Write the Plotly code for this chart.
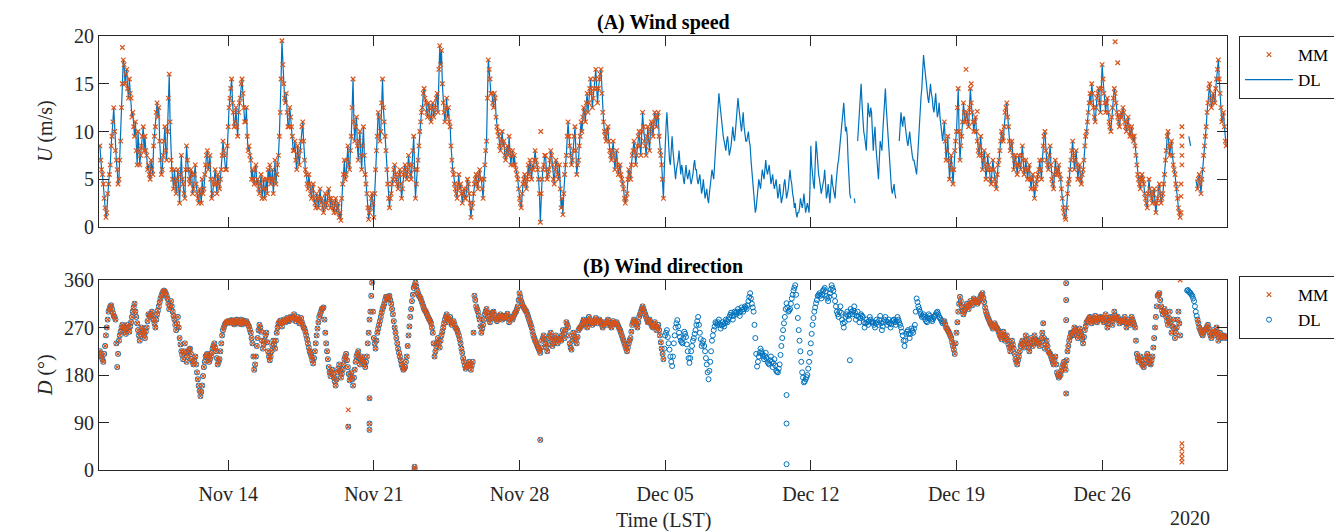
import pandas as pd
import plotly.graph_objects as go

BLUE = '#0072BD'
ORANGE = '#D95319'
INK = '#262626'
FONT = 'Liberation Serif'

# ---------------- data: hourly readings, split into even hours (00,02,..,22) and odd hours (01,..,23)
# Nov 07 starts at 20:00 (even) / 21:00 (odd)
speed_even = {
    '2019-11-07': [8.5, 6.0],
    '2019-11-08': [4.5, 2.0, 1.5, 4.5, 6.5, 9.5, 12.5, 8.0, 6.0, 5.0, 9.0, 15.0],
    '2019-11-09': [17.0, 16.0, 14.5, 15.5, 13.5, 12.0, 9.5, 8.0, 10.0, 6.5, 8.5, 10.5],
    '2019-11-10': [9.5, 7.5, 6.5, 5.0, 6.0, 8.5, 10.5, 13.0, 12.5, 7.0, 6.0, 9.0],
    '2019-11-11': [8.0, 10.0, 16.0, 7.0, 5.0, 6.0, 3.5, 6.0, 2.5, 7.5, 4.5, 3.0],
    '2019-11-12': [8.5, 6.0, 4.5, 5.5, 4.0, 6.5, 3.5, 2.5, 3.5, 5.0, 4.0, 6.5],
    '2019-11-13': [8.0, 6.5, 5.0, 3.5, 5.0, 4.5, 5.5, 4.0, 6.0, 9.0, 7.5, 6.0],
    '2019-11-14': [10.5, 13.5, 15.5, 12.0, 11.0, 10.5, 12.0, 13.5, 15.5, 12.5, 11.0, 9.5],
    '2019-11-15': [8.5, 7.0, 6.0, 4.5, 6.5, 5.0, 3.5, 5.5, 4.0, 3.0, 5.0, 6.0],
    '2019-11-16': [6.5, 5.0, 3.5, 7.0, 5.5, 7.5, 12.0, 19.5, 15.0, 13.0, 12.0, 10.5],
    '2019-11-17': [11.5, 9.5, 8.0, 7.0, 8.5, 6.5, 9.0, 11.0, 7.0, 5.5, 4.0, 4.5],
    '2019-11-18': [3.0, 4.5, 2.5, 3.5, 2.0, 4.0, 3.0, 1.5, 3.5, 2.5, 4.0, 2.0],
    '2019-11-19': [2.5, 1.5, 3.0, 2.0, 1.0, 0.7, 4.5, 7.0, 5.5, 8.5, 6.0, 9.5],
    '2019-11-20': [15.5, 9.0, 11.5, 7.0, 10.0, 6.0, 10.5, 5.5, 3.5, 0.8, 2.0, 3.5],
    '2019-11-21': [1.0, 6.0, 9.5, 11.5, 10.0, 15.5, 11.0, 8.0, 4.5, 2.0, 3.5, 5.0],
    '2019-11-22': [6.5, 5.0, 4.0, 6.0, 3.0, 5.5, 6.5, 5.0, 7.5, 5.5, 6.5, 9.5],
    '2019-11-23': [3.0, 6.0, 8.5, 11.0, 12.5, 14.5, 13.0, 11.5, 12.5, 11.0, 13.0, 12.0],
    '2019-11-24': [13.5, 12.0, 19.0, 18.5, 13.0, 11.0, 13.5, 12.5, 10.5, 7.0, 5.5, 4.0],
    '2019-11-25': [3.0, 5.5, 4.5, 2.5, 4.0, 3.0, 5.0, 3.5, 1.0, 2.5, 4.5, 5.5],
    '2019-11-26': [4.0, 6.0, 5.0, 3.0, 6.5, 9.0, 17.5, 15.5, 14.0, 12.5, 13.5, 10.5],
    '2019-11-27': [9.5, 8.0, 10.0, 9.0, 7.0, 8.5, 9.5, 6.5, 8.0, 7.5, 6.0, 5.0],
    '2019-11-28': [3.0, 2.0, 4.5, 5.5, 4.0, 6.5, 7.0, 5.0, 6.0, 8.0, 6.5, 5.0],
    '2019-11-29': [0.5, 5.0, 6.5, 7.5, 5.0, 6.0, 8.0, 6.5, 4.5, 7.0, 5.5, 6.5],
    '2019-11-30': [2.0, 1.3, 5.5, 7.5, 11.0, 8.5, 6.5, 8.0, 10.5, 5.5, 7.0, 9.5],
    '2019-12-01': [10.0, 12.5, 11.0, 14.0, 13.0, 15.5, 12.5, 14.5, 16.5, 13.0, 15.5, 16.5],
    '2019-12-02': [12.0, 10.0, 9.0, 10.5, 8.0, 7.0, 9.0, 6.0, 8.0, 5.5, 6.5, 5.0],
    '2019-12-03': [4.0, 2.5, 3.5, 6.0, 5.0, 7.5, 9.0, 6.5, 8.5, 10.0, 7.5, 12.0],
    '2019-12-04': [9.0, 7.5, 10.5, 8.0, 11.0, 9.5, 12.0, 10.5, 12.0, 8.0, 6.5, 3.0],
    '2019-12-05': [9.0, 12.0, 8.0, 6.5, 9.5, 7.0, 5.0, 6.5, 8.0, 5.5, 6.0, 4.5],
    '2019-12-06': [6.5, 5.0, 6.0, 4.5, 5.5, 7.0, 6.0, 4.5, 5.5, 3.5, 5.0, 3.0],
    '2019-12-07': [4.0, 2.5, 4.5, 6.0, 5.0, 8.0, 11.0, 14.0, 12.0, 10.5, 9.0, 8.0],
    '2019-12-08': [9.5, 7.5, 8.5, 10.5, 9.0, 11.0, 13.5, 11.5, 10.0, 12.0, 9.5, 9.0],
    '2019-12-09': [10.0, 8.5, 6.0, 3.5, 1.5, 3.0, 5.0, 4.0, 6.0, 5.0, 7.0, 5.5],
    '2019-12-10': [6.5, 4.5, 5.5, 4.0, 5.0, 3.0, 4.5, 2.5, 3.5, 5.0, 3.0, 4.0],
    '2019-12-11': [6.0, 4.5, 3.0, 2.5, 1.0, 1.5, 3.0, 2.0, 3.5, 1.5, 2.5, 1.5],
    '2019-12-12': [8.5, 5.0, 4.0, 9.0, 6.5, 5.0, 3.5, 4.5, 6.0, 3.0, 4.5, 2.5],
    '2019-12-13': [5.5, 4.0, 3.0, 6.0, 7.0, 9.0, 11.0, 13.0, 10.0, 9.5, 4.0, 3.0],
    '2019-12-14': [None, 3.0, None, 9.0, 12.0, 15.0, 11.0, 9.5, 8.0, 13.0, 11.5, 12.0],
    '2019-12-15': [8.0, 10.5, 7.0, 5.0, 9.0, 8.0, 12.0, 14.5, 11.0, 9.0, 5.0, 3.5],
    '2019-12-16': [4.5, 3.0, None, 9.0, 12.0, 10.5, 11.5, 9.5, 8.5, 10.0, 8.0, 7.0],
    '2019-12-17': [6.5, 5.5, 9.0, 12.0, 14.5, 18.0, 16.0, 14.5, 13.0, 15.0, 13.5, 12.0],
    '2019-12-18': [14.0, 11.5, 13.0, 10.5, 9.0, 11.0, 7.0, 9.5, 5.0, 7.5, 4.5, 8.0],
    '2019-12-19': [10.0, 14.5, 7.0, 9.5, 13.0, 11.0, 12.0, 10.5, 14.5, 12.0, 10.0, 11.5],
    '2019-12-20': [9.0, 7.5, 9.5, 6.0, 8.0, 5.0, 7.5, 6.0, 4.5, 7.0, 5.0, 4.0],
    '2019-12-21': [6.5, 8.0, 10.0, 9.0, 12.0, 13.0, 10.5, 8.0, 9.0, 6.0, 7.5, 5.5],
    '2019-12-22': [7.5, 6.0, 8.5, 5.5, 7.0, 5.0, 6.5, 4.0, 5.5, 3.0, 4.5, 5.5],
    '2019-12-23': [7.0, 5.0, 8.5, 10.0, 7.0, 6.0, 8.5, 5.0, 4.0, 7.0, 5.5, 6.5],
    '2019-12-24': [5.0, 3.0, 1.5, 0.8, 3.5, 5.0, 7.0, 9.0, 6.0, 8.0, 5.0, 6.5],
    '2019-12-25': [4.5, 6.0, 8.5, 10.0, 12.0, 14.0, 15.0, 12.5, 11.0, 13.5, 14.5, 12.0],
    '2019-12-26': [17.0, 14.0, 12.0, 13.5, 11.0, 10.0, 12.5, 14.5, 13.0, 11.5, 10.5, 12.0],
    '2019-12-27': [12.5, 11.0, 10.0, 11.5, 9.5, 10.5, 9.0, 8.5, 6.5, 5.0, 4.0, 5.5],
    '2019-12-28': [4.5, 3.0, 2.0, 5.0, 3.5, 2.5, 4.0, 1.5, 3.0, 4.5, 2.5, 3.5],
    '2019-12-29': [5.5, 8.0, 10.0, 7.5, 9.0, 6.5, 5.5, 4.0, 2.0, 1.0, None, None],
    '2019-12-30': [None, None, 9.5, 8.5, None, None, 5.0, 4.0, 5.5, 3.5, 6.0, 8.5],
    '2019-12-31': [10.5, 13.0, 15.0, 12.5, 14.0, 13.0, 15.5, 17.5, 14.0, 11.0, 12.0, 9.0],
}

speed_odd = {
    '2019-11-07': [7.0, 5.5],
    '2019-11-08': [3.0, 1.0, 3.5, 5.5, 8.5, 11.0, 10.0, 7.0, 4.5, 7.0, 12.5, 17.5],
    '2019-11-09': [15.0, 16.5, 13.5, 14.0, 11.5, 10.5, 11.0, 6.5, 8.0, 7.5, 9.5, 8.0],
    '2019-11-10': [8.0, 6.0, 5.5, 7.0, 5.5, 9.5, 12.0, 11.5, 9.0, 5.5, 7.5, 10.5],
    '2019-11-11': [7.0, 13.5, 11.0, 6.0, 4.0, 4.5, 5.0, 4.0, 5.5, 5.0, 3.5, 6.0],
    '2019-11-12': [7.0, 5.0, 6.0, 3.5, 5.5, 4.5, 3.0, 4.0, 2.5, 3.5, 5.5, 7.5],
    '2019-11-13': [6.0, 7.5, 3.0, 4.5, 6.0, 3.5, 4.5, 5.0, 7.5, 8.0, 6.0, 8.5],
    '2019-11-14': [12.5, 14.5, 13.0, 10.5, 12.5, 9.5, 13.0, 15.0, 14.0, 11.0, 12.5, 8.0],
    '2019-11-15': [7.5, 5.0, 5.0, 6.0, 4.5, 4.0, 4.5, 3.0, 5.0, 4.0, 3.5, 5.0],
    '2019-11-16': [4.5, 6.0, 5.0, 4.5, 6.5, 9.5, 15.5, 17.0, 13.5, 14.0, 10.5, 12.5],
    '2019-11-17': [10.5, 8.0, 9.0, 6.0, 7.5, 8.0, 10.5, 9.0, 6.0, 4.5, 5.5, 3.5],
    '2019-11-18': [4.0, 3.0, 2.0, 3.0, 3.0, 2.5, 2.0, 2.5, 2.0, 3.5, 3.0, 3.0],
    '2019-11-19': [2.0, 2.5, 1.5, 2.5, 1.5, 3.0, 5.5, 5.0, 7.0, 6.5, 8.0, 12.5],
    '2019-11-20': [11.0, 10.5, 8.5, 9.0, 7.5, 8.5, 7.5, 4.5, 2.0, 1.5, 3.0, 2.5],
    '2019-11-21': [3.5, 8.0, 12.0, 9.0, 13.0, 12.5, 9.5, 6.0, 3.0, 3.0, 4.5, 6.0],
    '2019-11-22': [5.5, 4.5, 5.5, 4.5, 4.0, 6.0, 5.5, 6.0, 6.5, 5.0, 8.0, 6.0],
    '2019-11-23': [4.5, 7.0, 10.0, 12.0, 14.0, 13.5, 12.0, 13.0, 11.5, 12.5, 11.5, 12.5],
    '2019-11-24': [14.0, 16.5, 17.0, 15.0, 12.0, 12.5, 11.5, 11.0, 8.5, 6.0, 4.5, 3.5],
    '2019-11-25': [4.5, 4.0, 3.5, 3.5, 3.0, 4.0, 4.5, 2.5, 2.0, 3.5, 5.0, 4.5],
    '2019-11-26': [5.5, 5.0, 4.0, 5.0, 8.0, 13.5, 16.5, 14.0, 13.0, 14.0, 11.5, 10.0],
    '2019-11-27': [8.5, 9.0, 8.5, 7.5, 8.0, 7.5, 8.0, 7.5, 6.5, 6.5, 5.5, 4.0],
    '2019-11-28': [2.5, 3.5, 5.0, 4.5, 5.0, 5.5, 6.0, 6.5, 7.0, 7.0, 6.0, 3.5],
    '2019-11-29': [3.5, 6.0, 7.5, 6.0, 5.5, 7.0, 7.5, 5.0, 6.0, 6.5, 5.0, 4.0],
    '2019-11-30': [3.0, 3.5, 6.5, 9.5, 9.5, 7.5, 7.0, 9.5, 8.0, 6.5, 8.5, 11.0],
    '2019-12-01': [11.5, 12.0, 13.0, 12.0, 14.5, 14.0, 13.5, 15.5, 14.5, 14.5, 16.0, 14.0],
    '2019-12-02': [11.0, 9.5, 10.0, 9.0, 7.5, 8.0, 7.5, 7.0, 6.5, 6.0, 5.5, 4.5],
    '2019-12-03': [3.0, 3.0, 5.0, 5.5, 6.5, 8.0, 8.0, 7.5, 9.5, 8.5, 10.0, 10.5],
    '2019-12-04': [8.5, 9.5, 9.0, 10.0, 10.5, 11.0, 11.5, 11.5, 9.5, 7.5, 5.0, 6.0],
    '2019-12-05': [10.5, 10.0, 7.0, 8.5, 8.0, 6.0, 6.0, 7.0, 6.5, 6.5, 5.0, 5.5],
    '2019-12-06': [5.5, 5.5, 5.0, 5.0, 6.5, 6.0, 5.0, 5.0, 4.5, 4.0, 4.0, 3.5],
    '2019-12-07': [3.0, 3.5, 5.5, 5.5, 6.5, 9.5, 12.5, 13.0, 11.0, 9.5, 8.5, 9.0],
    '2019-12-08': [8.5, 8.0, 9.5, 9.5, 10.0, 12.0, 12.5, 10.5, 11.0, 10.5, 9.0, 9.5],
    '2019-12-09': [9.0, 7.0, 4.5, 2.5, 2.0, 4.0, 4.5, 5.0, 5.5, 6.0, 6.0, 6.0],
    '2019-12-10': [5.5, 5.0, 4.5, 4.5, 4.0, 3.5, 3.5, 3.0, 4.5, 4.0, 3.5, 5.0],
    '2019-12-11': [5.0, 3.5, 2.0, 1.5, 1.5, 2.0, 2.5, 2.5, 2.5, 2.0, 2.0, 4.0],
    '2019-12-12': [6.5, 4.5, 6.0, 8.0, 5.5, 4.0, 4.0, 5.0, 4.5, 3.5, 3.5, 4.0],
    '2019-12-13': [4.5, 3.5, 4.5, 6.5, 8.0, 10.5, 12.0, 11.5, 10.5, 7.0, 3.5, None],
    '2019-12-14': [None, 2.5, None, 10.5, 13.5, 13.0, 10.0, 8.5, 10.5, 12.0, 12.5, 10.0],
    '2019-12-15': [9.5, 8.5, 6.0, 7.0, 8.5, 10.0, 13.5, 12.5, 10.0, 7.0, 4.0, 4.0],
    '2019-12-16': [3.5, None, None, 10.5, 11.0, 11.5, 10.5, 9.0, 9.5, 9.0, 7.5, 7.0],
    '2019-12-17': [6.0, 7.0, 10.5, 13.5, 16.0, 17.0, 15.0, 13.5, 14.5, 14.0, 12.5, 13.0],
    '2019-12-18': [12.5, 12.0, 11.5, 9.5, 10.0, 9.0, 8.0, 7.0, 6.5, 6.0, 6.0, 9.0],
    '2019-12-19': [12.5, 10.0, 8.5, 11.0, 12.0, 11.5, 11.0, 12.5, 13.0, 11.0, 11.0, 10.0],
    '2019-12-20': [8.0, 8.5, 7.5, 7.0, 6.5, 6.0, 6.5, 5.0, 6.0, 6.0, 4.5, 5.5],
    '2019-12-21': [7.0, 9.0, 9.5, 10.5, 12.5, 11.5, 9.0, 8.5, 7.5, 7.0, 6.5, 6.5],
    '2019-12-22': [6.5, 7.5, 7.0, 6.0, 6.0, 6.0, 5.0, 5.0, 4.0, 4.0, 5.0, 6.0],
    '2019-12-23': [6.0, 7.0, 9.5, 8.0, 6.5, 7.5, 6.5, 4.5, 5.5, 6.0, 6.0, 5.5],
    '2019-12-24': [4.0, 2.0, 1.0, 2.0, 4.5, 6.0, 8.0, 7.5, 7.0, 6.5, 6.0, 5.0],
    '2019-12-25': [5.5, 7.0, 9.5, 11.0, 13.0, 13.0, 14.0, 11.5, 12.5, 14.0, 13.0, 14.5],
    '2019-12-26': [15.5, 13.0, 13.0, 12.0, 10.5, 11.5, 13.5, 14.0, 12.0, 11.0, 11.5, 11.5],
    '2019-12-27': [12.0, 10.5, 11.0, 10.5, 10.0, 9.5, 9.5, 7.5, 5.5, 4.5, 5.0, 5.0],
    '2019-12-28': [3.5, 2.5, 3.5, 4.0, 3.0, 3.5, 2.5, 2.5, 4.0, 3.5, 3.0, 4.5],
    '2019-12-29': [7.0, 9.5, 8.5, 8.5, 7.5, 6.0, 4.5, 3.0, 1.5, None, None, None],
    '2019-12-30': [None, None, 9.0, None, None, None, 4.5, 5.0, 4.5, 5.0, 7.5, 9.5],
    '2019-12-31': [12.0, 14.5, 13.5, 13.0, 13.5, 14.5, 16.5, 15.5, 12.5, 11.5, 10.5, 8.5],
}

dir_even = {
    '2019-11-07': [225, 215],
    '2019-11-08': [205, 235, 270, 300, 310, 305, 292, 285, 195, 245, 262, 275],
    '2019-11-09': [268, 258, 275, 262, 280, 300, 315, 290, 265, 245, 270, 260],
    '2019-11-10': [250, 270, 295, 290, 300, 285, 270, 295, 310, 325, 335, 340],
    '2019-11-11': [335, 325, 305, 320, 300, 285, 265, 290, 250, 225, 210, 240],
    '2019-11-12': [205, 225, 230, 210, 200, 215, 185, 160, 140, 160, 195, 215],
    '2019-11-13': [220, 205, 215, 230, 240, 225, 200, 210, 240, 265, 275, 280],
    '2019-11-14': [282, 280, 284, 278, 281, 285, 279, 282, 276, 283, 280, 278],
    '2019-11-15': [272, 260, 240, 190, 215, 250, 275, 262, 230, 245, 260, 225],
    '2019-11-16': [208, 225, 245, 230, 260, 278, 283, 272, 285, 280, 288, 282],
    '2019-11-17': [290, 285, 295, 282, 290, 278, 288, 275, 268, 255, 240, 225],
    '2019-11-18': [215, 202, 225, 255, 280, 295, 305, 308, 260, 225, 195, 178],
    '2019-11-19': [190, 175, 160, 185, 200, 175, 190, 210, 220, 195, 170, 185],
    '2019-11-20': [160, 190, 215, 225, 200, 215, 205, 195, 215, 260, 300, 355],
    '2019-11-21': [250, 230, 260, 275, 290, 305, 315, 328, 325, 330, 315, 295],
    '2019-11-22': [270, 250, 230, 215, 200, 190, 195, 215, 255, 290, 320, 345],
    '2019-11-23': [355, 340, 330, 325, 315, 305, 300, 292, 285, 278, 260, 215],
    '2019-11-24': [235, 250, 232, 255, 270, 285, 295, 280, 290, 275, 282, 270],
    '2019-11-25': [265, 255, 240, 222, 205, 192, 198, 205, 190, 205, 330, 310],
    '2019-11-26': [300, 285, 260, 275, 295, 305, 290, 280, 295, 300, 288, 282],
    '2019-11-27': [290, 295, 285, 292, 288, 296, 280, 290, 285, 295, 300, 310],
    '2019-11-28': [335, 320, 310, 305, 300, 290, 280, 270, 255, 245, 238, 230],
    '2019-11-29': [222, 245, 255, 240, 225, 250, 260, 235, 245, 255, 240, 250],
    '2019-11-30': [245, 265, 250, 280, 270, 240, 228, 260, 250, 240, 265, 270],
    '2019-12-01': [275, 285, 280, 270, 290, 282, 275, 280, 288, 278, 285, 280],
    '2019-12-02': [270, 280, 275, 285, 278, 270, 282, 276, 280, 272, 265, 255],
    '2019-12-03': [245, 235, 225, 240, 250, 275, 285, 280, 270, 290, 300, 310],
    '2019-12-04': [300, 290, 280, 285, 275, 270, 280, 265, 275, 255, 230, 210],
    '2019-12-05': [255, 265, 240, 215, 197, 240, 270, 284, 260, 245, 240, 262],
    '2019-12-06': [252, 225, 203, 225, 245, 258, 275, 290, 260, 235, 245, 225],
    '2019-12-07': [200, 172, 205, 245, 265, 280, 275, 285, 268, 280, 272, 285],
    '2019-12-08': [280, 290, 298, 285, 300, 295, 305, 292, 308, 300, 310, 305],
    '2019-12-09': [320, 335, 315, 300, 250, 196, 215, 230, 220, 210, 222, 205],
    '2019-12-10': [200, 215, 195, 210, 188, 185, 200, 235, 265, 290, 316, 300],
    '2019-12-11': [305, 325, 340, 350, 310, 265, 225, 185, 166, 172, 180, 205],
    '2019-12-12': [240, 275, 300, 316, 330, 335, 325, 340, 345, 330, 320, 335],
    '2019-12-13': [350, 340, 320, 300, 290, 310, 285, 270, 290, 300, 285, 305],
    '2019-12-14': [295, 310, 285, 300, 280, 295, 290, 270, 285, 275, 290, 280],
    '2019-12-15': [280, 270, 285, 275, 292, 265, 280, 290, 275, 285, 270, 282],
    '2019-12-16': [285, 275, 290, 280, 270, 255, 235, 258, 265, 250, 268, 260],
    '2019-12-17': [275, 325, 310, 300, 290, 295, 285, 280, 295, 288, 282, 290],
    '2019-12-18': [295, 300, 290, 285, 278, 282, 270, 265, 258, 250, 235, 220],
    '2019-12-19': [260, 300, 328, 310, 295, 305, 315, 305, 320, 312, 325, 320],
    '2019-12-20': [315, 320, 330, 335, 318, 300, 290, 282, 275, 268, 278, 270],
    '2019-12-21': [265, 255, 248, 262, 245, 255, 238, 225, 245, 230, 210, 200],
    '2019-12-22': [215, 235, 245, 232, 255, 240, 225, 250, 235, 255, 240, 245],
    '2019-12-23': [235, 250, 278, 230, 245, 225, 220, 210, 200, 215, 185, 175],
    '2019-12-24': [180, 195, 205, 190, 225, 245, 260, 255, 270, 262, 250, 268],
    '2019-12-25': [255, 240, 265, 280, 285, 290, 278, 285, 292, 280, 285, 290],
    '2019-12-26': [288, 280, 295, 270, 285, 290, 275, 300, 285, 290, 278, 285],
    '2019-12-27': [280, 290, 270, 285, 275, 290, 280, 270, 220, 205, 215, 200],
    '2019-12-28': [195, 210, 220, 205, 200, 215, 250, 290, 330, 335, 310, 295],
    '2019-12-29': [305, 290, 275, 300, 260, 285, 250, 270, 300, 255, None, None],
    '2019-12-30': [None, 340, 338, 335, 330, 320, 300, 285, 270, 262, 255, 265],
    '2019-12-31': [268, 275, 260, 250, 265, 255, 270, 245, 260, 250, 255, 252],
}

dir_odd = {
    '2019-11-07': [220, 210],
    '2019-11-08': [220, 255, 285, 305, 312, 298, 290, 240, 220, 255, 270, 272],
    '2019-11-09': [262, 268, 270, 272, 290, 308, 300, 278, 255, 258, 265, 255],
    '2019-11-10': [262, 282, 292, 296, 292, 278, 285, 302, 318, 330, 338, 338],
    '2019-11-11': [330, 315, 312, 310, 292, 275, 278, 270, 238, 218, 225, 222],
    '2019-11-12': [215, 228, 220, 205, 208, 200, 172, 150, 148, 178, 205, 218],
    '2019-11-13': [212, 210, 222, 235, 232, 212, 205, 225, 255, 270, 278, 281],
    '2019-11-14': [279, 283, 281, 276, 284, 281, 277, 285, 280, 278, 282, 275],
    '2019-11-15': [266, 250, 215, 200, 235, 265, 270, 245, 238, 255, 242, 215],
    '2019-11-16': [215, 235, 238, 245, 270, 280, 278, 280, 282, 285, 284, 287],
    '2019-11-17': [288, 290, 288, 286, 284, 282, 280, 270, 262, 248, 232, 220],
    '2019-11-18': [208, 212, 240, 268, 290, 300, 306, 285, 240, 210, 185, 185],
    '2019-11-19': [182, 168, 172, 192, 188, 182, 200, 215, 208, 182, 178, 172],
    '2019-11-20': [175, 205, 220, 212, 208, 210, 200, 205, 240, 285, 330, 300],
    '2019-11-21': [240, 245, 268, 282, 298, 310, 322, 326, 328, 322, 305, 282],
    '2019-11-22': [260, 240, 222, 208, 195, 192, 205, 235, 272, 305, 332, 350],
    '2019-11-23': [348, 335, 328, 320, 310, 302, 296, 288, 282, 270, 240, 225],
    '2019-11-24': [242, 240, 245, 262, 278, 290, 288, 285, 282, 278, 276, 268],
    '2019-11-25': [260, 248, 230, 212, 198, 195, 202, 198, 198, 260, 322, 305],
    '2019-11-26': [292, 272, 268, 285, 300, 298, 285, 288, 298, 294, 285, 286],
    '2019-11-27': [292, 290, 288, 290, 292, 288, 285, 288, 290, 298, 305, 322],
    '2019-11-28': [328, 315, 308, 302, 295, 285, 275, 262, 250, 242, 234, 226],
    '2019-11-29': [232, 250, 248, 232, 238, 255, 248, 240, 250, 248, 245, 248],
    '2019-11-30': [255, 258, 265, 275, 255, 232, 245, 255, 245, 252, 268, 272],
    '2019-12-01': [280, 282, 275, 280, 286, 278, 278, 284, 282, 282, 282, 275],
    '2019-12-02': [275, 278, 280, 282, 274, 276, 279, 278, 276, 268, 260, 250],
    '2019-12-03': [240, 230, 232, 245, 262, 280, 282, 275, 280, 295, 305, 305],
    '2019-12-04': [295, 285, 282, 280, 272, 275, 272, 270, 265, 242, 220, 230],
    '2019-12-05': [260, 252, 228, 205, 215, 255, 278, 272, 252, 242, 250, 258],
    '2019-12-06': [238, 212, 212, 235, 250, 265, 282, 275, 248, 240, 235, 212],
    '2019-12-07': [185, 188, 225, 255, 272, 278, 280, 276, 274, 276, 278, 282],
    '2019-12-08': [285, 294, 292, 292, 298, 300, 298, 300, 304, 305, 308, 312],
    '2019-12-09': [328, 325, 308, 275, 220, 205, 222, 225, 215, 216, 212, 202],
    '2019-12-10': [208, 205, 202, 198, 186, 192, 218, 250, 278, 305, 308, 302],
    '2019-12-11': [315, 332, 345, 332, 288, 245, 205, 175, 168, 176, 192, 222],
    '2019-12-12': [258, 288, 308, 322, 332, 330, 332, 342, 338, 325, 328, 342],
    '2019-12-13': [345, 330, 310, 295, 300, 298, 278, 280, 295, 292, 295, 300],
    '2019-12-14': [302, 298, 292, 290, 288, 292, 280, 278, 280, 282, 285, 280],
    '2019-12-15': [275, 278, 280, 284, 278, 272, 285, 282, 280, 278, 276, 284],
    '2019-12-16': [280, 282, 285, 275, 262, 245, 245, 262, 258, 258, 264, 268],
    '2019-12-17': [300, 318, 305, 295, 292, 290, 282, 288, 292, 285, 286, 292],
    '2019-12-18': [298, 295, 288, 282, 280, 276, 268, 262, 254, 242, 228, 240],
    '2019-12-19': [280, 315, 320, 302, 300, 310, 310, 312, 316, 318, 322, 318],
    '2019-12-20': [318, 325, 332, 326, 308, 295, 286, 278, 272, 273, 274, 268],
    '2019-12-21': [260, 252, 255, 255, 250, 246, 232, 235, 238, 220, 205, 208],
    '2019-12-22': [225, 240, 238, 244, 248, 232, 238, 242, 245, 248, 242, 240],
    '2019-12-23': [242, 260, 250, 238, 235, 222, 215, 205, 208, 200, 180, 178],
    '2019-12-24': [188, 200, 198, 208, 235, 252, 258, 262, 266, 256, 260, 262],
    '2019-12-25': [248, 252, 272, 282, 288, 284, 282, 288, 286, 283, 288, 289],
    '2019-12-26': [284, 288, 282, 278, 288, 282, 288, 292, 288, 284, 282, 282],
    '2019-12-27': [285, 280, 278, 280, 282, 285, 275, 245, 212, 210, 208, 198],
    '2019-12-28': [202, 215, 212, 202, 208, 232, 270, 310, 332, 322, 302, 300],
    '2019-12-29': [298, 282, 288, 280, 272, 268, 260, 285, 278, None, None, None],
    '2019-12-30': [None, 341, 336, 332, 325, 310, 292, 278, 266, 258, 260, 266],
    '2019-12-31': [272, 268, 255, 258, 260, 262, 258, 252, 255, 252, 254, 250],
}

# periods when the MM instrument reported
mm_windows = [
    ('2019-11-07 20:00', '2019-12-04 22:00'),
    ('2019-12-18 10:00', '2019-12-29 19:00'),
    ('2019-12-30 14:00', '2020-01-01 00:00'),
]

# isolated readings off the common track
mm_speed_out_t = ['2019-11-08 22:00', '2019-11-29 00:30', '2019-12-19 11:00', '2019-12-19 17:00',
                  '2019-12-20 00:00', '2019-12-26 15:00', '2019-12-26 18:00',
                  '2019-12-29 20:00', '2019-12-29 20:00', '2019-12-29 20:00', '2019-12-29 20:00',
                  '2019-12-29 20:00', '2019-12-29 19:00', '2019-12-29 19:00', '2019-12-29 19:00']
mm_speed_out_v = [18.8, 10.0, 16.5, 15.0, 12.1, 19.4, 17.2,
                  10.5, 9.5, 8.5, 7.5, 6.5, 4.5, 3.2, 1.5]

dir_out_both_t = ['2019-11-19 18:30', '2019-11-20 19:00', '2019-11-20 19:00', '2019-11-20 19:00',
                  '2019-11-22 23:00', '2019-11-22 23:00', '2019-11-29 00:00',
                  '2019-12-24 06:30', '2019-12-24 06:30', '2019-12-24 06:30', '2019-12-24 06:30']
dir_out_both_v = [82, 136, 88, 76, 6, 2, 57, 354, 322, 284, 145]

dl_dir_out_t = ['2019-12-10 20:00', '2019-12-10 20:00', '2019-12-10 20:00', '2019-12-13 21:00']
dl_dir_out_v = [142, 88, 11, 208]

mm_dir_out_t = ['2019-11-19 18:30', '2019-12-29 18:00', '2019-12-29 20:00', '2019-12-29 20:00',
                '2019-12-29 20:00', '2019-12-29 20:00', '2019-12-29 20:00']
mm_dir_out_v = [114, 360, 50, 40, 30, 22, 15]

tick_dates = ['2019-11-14', '2019-11-21', '2019-11-28', '2019-12-05', '2019-12-12', '2019-12-19', '2019-12-26']
tick_text = ['Nov 14', 'Nov 21', 'Nov 28', 'Dec 05', 'Dec 12', 'Dec 19', 'Dec 26']
x_range = ['2019-11-07 19:00', '2020-01-01 00:00']


# ---------------- build ----------------
def expand(by_day, first_hour, day_start):
    t, v = [], []
    for d, vals in by_day.items():
        base = pd.Timestamp(d)
        start = first_hour if d == '2019-11-07' else day_start
        for i, x in enumerate(vals):
            t.append(base + pd.Timedelta(hours=start + 2 * i))
            v.append(x)
    return t, v


def hourly(even, odd):
    t1, v1 = expand(even, 20, 0)
    t2, v2 = expand(odd, 21, 1)
    pairs = sorted(zip(t1 + t2, v1 + v2), key=lambda p: p[0])
    return [p[0] for p in pairs], [p[1] for p in pairs]


def in_mm(ts):
    return any(pd.Timestamp(a) <= ts <= pd.Timestamp(b) for a, b in mm_windows)


def mm_pick(t, v):
    tt, vv = [], []
    for ti, vi in zip(t, v):
        if vi is not None and in_mm(ti):
            tt.append(ti)
            vv.append(vi)
    return tt, vv


sp_t, sp_v = hourly(speed_even, speed_odd)
dr_t, dr_v = hourly(dir_even, dir_odd)

mm_sp_t, mm_sp_v = mm_pick(sp_t, sp_v)
mm_sp_t += list(pd.to_datetime(mm_speed_out_t))
mm_sp_v += mm_speed_out_v

mm_d_t, mm_d_v = mm_pick(dr_t, dr_v)
mm_d_t += list(pd.to_datetime(dir_out_both_t + mm_dir_out_t))
mm_d_v += dir_out_both_v + mm_dir_out_v

dl_d_t = dr_t + list(pd.to_datetime(dir_out_both_t + dl_dir_out_t))
dl_d_v = dr_v + dir_out_both_v + dl_dir_out_v

fig = go.Figure()
fig.add_trace(go.Scatter(x=sp_t, y=sp_v, mode='lines', name='DL',
                         line=dict(color=BLUE, width=1.2), connectgaps=False,
                         xaxis='x', yaxis='y', legend='legend', legendrank=2))
fig.add_trace(go.Scatter(x=mm_sp_t, y=mm_sp_v, mode='markers', name='MM',
                         marker=dict(symbol='x-thin', size=4.5, color=ORANGE, line=dict(width=1.2, color=ORANGE)),
                         xaxis='x', yaxis='y', legend='legend', legendrank=1))
fig.add_trace(go.Scatter(x=dl_d_t, y=dl_d_v, mode='markers', name='DL',
                         marker=dict(symbol='circle-open', size=5, color=BLUE, line=dict(width=1, color=BLUE)),
                         xaxis='x2', yaxis='y2', legend='legend2', legendrank=2))
fig.add_trace(go.Scatter(x=mm_d_t, y=mm_d_v, mode='markers', name='MM',
                         marker=dict(symbol='x-thin', size=4.5, color=ORANGE, line=dict(width=1.2, color=ORANGE)),
                         xaxis='x2', yaxis='y2', legend='legend2', legendrank=1))

W, H = 1334, 532
L, R, T, B = 99, 107, 36, 62
PW = W - L - R
ph = H - T - B
top_dom = [(H - B - 227) / ph, 1.0]
bot_dom = [0.0, (H - B - 280) / ph]

axis_common = dict(showline=True, linecolor=INK, linewidth=1.2, mirror='allticks', ticks='inside',
                   ticklen=10, tickwidth=1.2, tickcolor=INK, showgrid=False, zeroline=False,
                   tickfont=dict(family=FONT, size=20, color=INK))

legend_common = dict(x=(1239 - L) / PW, xanchor='left', yanchor='top', itemwidth=48,
                     bgcolor='white', bordercolor=INK, borderwidth=1, tracegroupgap=0,
                     font=dict(family=FONT, size=17, color='black'))

fig.update_layout(
    width=W, height=H,
    margin=dict(l=L, r=R, t=T, b=B, autoexpand=False),
    paper_bgcolor='white', plot_bgcolor='white',
    font=dict(family=FONT, size=20, color=INK),
    showlegend=True,
    xaxis=dict(axis_common, type='date', range=x_range, domain=[0, 1], anchor='y',
               tickvals=tick_dates, ticktext=tick_text, showticklabels=False),
    yaxis=dict(axis_common, range=[0, 20], tickvals=[0, 5, 10, 15, 20], domain=top_dom, anchor='x'),
    xaxis2=dict(axis_common, type='date', range=x_range, domain=[0, 1], anchor='y2',
                tickvals=tick_dates, ticktext=tick_text, ticklabelstandoff=6),
    yaxis2=dict(axis_common, range=[0, 360], tickvals=[0, 90, 180, 270, 360], domain=bot_dom, anchor='x2'),
    legend=dict(legend_common, y=1.0),
    legend2=dict(legend_common, y=(H - B - 276) / ph),
    annotations=[
        dict(text='<b>(A) Wind speed</b>', x=0.5, y=1.0, xref='paper', yref='paper',
             xanchor='center', yanchor='bottom', showarrow=False, font=dict(family=FONT, size=20, color='black')),
        dict(text='<b>(B) Wind direction</b>', x=0.5, y=bot_dom[1], xref='paper', yref='paper',
             xanchor='center', yanchor='bottom', showarrow=False, font=dict(family=FONT, size=20, color='black')),
        dict(text='<i>U</i> (m/s)', x=(45 - L) / PW, y=(H - B - 131) / ph, xref='paper', yref='paper',
             textangle=-90, xanchor='center', yanchor='middle', showarrow=False, font=dict(family=FONT, size=20, color=INK)),
        dict(text='<i>D</i> (°)', x=(45 - L) / PW, y=(H - B - 375) / ph, xref='paper', yref='paper',
             textangle=-90, xanchor='center', yanchor='middle', showarrow=False, font=dict(family=FONT, size=20, color=INK)),
        dict(text='Time (LST)', x=0.5, y=(H - B - 520) / ph, xref='paper', yref='paper',
             xanchor='center', yanchor='middle', showarrow=False, font=dict(family=FONT, size=20, color=INK)),
        dict(text='2020', x=(1190 - L) / PW, y=(H - B - 518) / ph, xref='paper', yref='paper',
             xanchor='center', yanchor='middle', showarrow=False, font=dict(family=FONT, size=20, color=INK)),
    ],
)

fig.write_html('out.html')
